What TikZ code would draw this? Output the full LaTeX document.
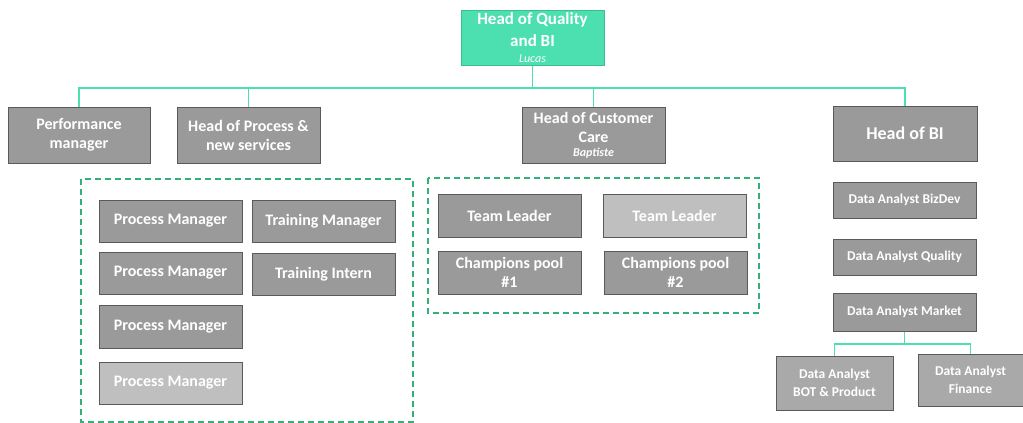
\documentclass[tikz,border=0pt]{standalone}
\usepackage{fontspec}
\setmainfont{Carlito}
\definecolor{boxgray}{HTML}{9A9A9A}
\definecolor{lightgray}{HTML}{BFBFBF}
\definecolor{boxline}{HTML}{5A5A5A}
\definecolor{turq}{HTML}{4CDFB0}
\definecolor{turqline}{HTML}{3DBE8E}
\definecolor{grpgreen}{HTML}{33B07A}
\tikzset{
  box/.style={draw=boxline, fill=boxgray, line width=1pt, text=white, align=center,
    inner sep=0pt, font=\fontsize{16}{19}\selectfont\bfseries},
  lightbox/.style={box, fill=lightgray},
  analyst/.style={box, font=\fontsize{13.5}{18}\selectfont\bfseries},
  link/.style={draw=turq, line width=1.5pt},
  group/.style={draw=grpgreen, line width=1.4pt, dash pattern=on 6pt off 4pt}
}
\begin{document}
\begin{tikzpicture}[x=1pt, y=-1pt]
  \useasboundingbox (0,0) rectangle (1023,423);

  \node[box, fill=turq, draw=turqline, minimum width=143, minimum height=55,
    font=\fontsize{17}{22}\selectfont\bfseries] (qbi) at (532.5,37.5)
    {Head of Quality\\and BI\\[-6pt]{\fontsize{12}{14}\selectfont\mdseries\itshape Lucas}};

  \node[box, minimum width=142, minimum height=56] (perf) at (79,135) {Performance\\manager};
  \node[box, minimum width=143, minimum height=56] (hproc) at (248.5,135) {Head of Process \&\\new services};
  \node[box, minimum width=143, minimum height=56] (hcc) at (593.5,135)
    {Head of Customer\\Care\\[-5pt]{\fontsize{12}{14}\selectfont\itshape Baptiste}};
  \node[box, minimum width=144, minimum height=55, font=\fontsize{18}{22}\selectfont\bfseries] (hbi) at (905,133.5) {Head of BI};

  \coordinate (hub) at (532.5,88);
  \draw[link] (qbi.south) -- (hub);
  \foreach \n in {perf,hproc,hcc,hbi}
    \draw[link] (hub) -| (\n.north);

  % process team
  \draw[group] (81,179) rectangle (413,422);
  \node[box, minimum width=143, minimum height=42] (pm1) at (170.5,221) {Process Manager};
  \node[box, minimum width=143, minimum height=42] (pm2) at (170.5,273) {Process Manager};
  \node[box, minimum width=143, minimum height=43] (pm3) at (170.5,326.5) {Process Manager};
  \node[lightbox, minimum width=143, minimum height=42] (pm4) at (170.5,383) {Process Manager};
  \node[box, minimum width=143, minimum height=42] (trm) at (323.5,221) {Training Manager};
  \node[box, minimum width=143, minimum height=42] (tri) at (323.5,274) {Training Intern};

  % customer care team
  \draw[group] (428,178) rectangle (759,313);
  \node[box, minimum width=143, minimum height=43] (tl1) at (509.5,215.5) {Team Leader};
  \node[lightbox, minimum width=143, minimum height=43] (tl2) at (674.5,215.5) {Team Leader};
  \node[box, minimum width=143, minimum height=43] (cp1) at (509.5,272.5) {Champions pool\\\#1};
  \node[box, minimum width=143, minimum height=43] (cp2) at (675.5,272.5) {Champions pool\\\#2};

  % BI team
  \node[analyst, minimum width=143, minimum height=36] (dab) at (904.5,200) {Data Analyst BizDev};
  \node[analyst, minimum width=143, minimum height=36] (daq) at (904.5,257) {Data Analyst Quality};
  \node[analyst, minimum width=143, minimum height=38] (dam) at (904.5,312) {Data Analyst Market};
  \node[analyst, fill=boxgray!85!white, minimum width=117, minimum height=54] (dabot) at (834.5,383) {Data Analyst\\BOT \& Product};
  \node[analyst, fill=boxgray!85!white, minimum width=105, minimum height=52] (dafin) at (970.5,380) {Data Analyst\\Finance};

  \coordinate (mhub) at (904.5,344);
  \draw[link] (dam.south) -- (mhub);
  \foreach \n in {dabot,dafin}
    \draw[link] (mhub) -| (\n.north);
\end{tikzpicture}
\end{document}
